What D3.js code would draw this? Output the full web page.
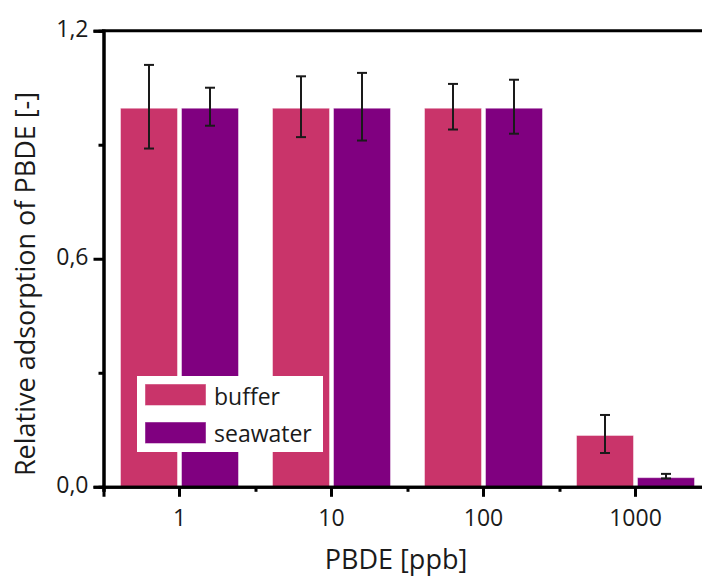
<!DOCTYPE html>
<html>
<head>
<meta charset="utf-8">
<script src="https://cdn.jsdelivr.net/npm/d3@7"></script>
<style>
  html, body { margin: 0; padding: 0; background: #fff; }
  svg { display: block; overflow: hidden; }
  text { font-family: "Open Sans", sans-serif; fill: #1a1a1a; }
</style>
</head>
<body>
<div id="chart"></div>
<script>
// PBDE concentrations (ppb) on the x axis
const categories = ["1", "10", "100", "1000"];
const seriesNames = ["buffer", "seawater"];
// relative adsorption, mean values
const bufferValues   = [1.0, 1.0, 1.0, 0.139];
const seawaterValues = [1.0, 1.0, 1.0, 0.028];
// standard deviations
const bufferErrors   = [0.110, 0.080, 0.060, 0.050];
const seawaterErrors = [0.050, 0.089, 0.071, 0.006];
// y axis ticks
const yMajorTicks = [0, 0.6, 1.2];
const yMinorTicks = [0.3, 0.9];
const yTickLabels = ["0,0", "0,6", "1,2"];

const colors = { buffer: "#c9346a", seawater: "#800080" };

const W = 702, H = 576;
const plotLeft = 103.5, plotRight = 711.5, plotTop = 30.7, plotBottom = 486.8;

const svg = d3.select("#chart").append("svg")
  .attr("width", W).attr("height", H);

const x0 = d3.scaleBand().domain(categories).range([plotLeft, plotRight]).padding(0);
const x1 = d3.scaleBand().domain(seriesNames).range([-59, 59]).paddingInner(0.0656);
const y = d3.scaleLinear().domain([0, 1.2]).range([plotBottom, plotTop]);

const rows = categories.map((c, i) => ({
  cat: c,
  items: [
    { s: "buffer", v: bufferValues[i], e: bufferErrors[i] },
    { s: "seawater", v: seawaterValues[i], e: seawaterErrors[i] }
  ]
}));

// bars
const groups = svg.append("g").selectAll("g").data(rows).join("g")
  .attr("transform", d => `translate(${x0(d.cat) + x0.bandwidth() / 2},0)`);

groups.selectAll("rect").data(d => d.items).join("rect")
  .attr("x", d => x1(d.s))
  .attr("width", x1.bandwidth())
  .attr("y", d => y(d.v) + 1.5)
  .attr("height", d => Math.max(0, plotBottom - y(d.v) - 1.5))
  .attr("fill", d => colors[d.s])
  .attr("stroke", "#ffffff").attr("stroke-opacity", 0.45).attr("stroke-width", 1);

// error bars
const eb = groups.selectAll("g.err").data(d => d.items).join("g").attr("class", "err")
  .attr("transform", d => `translate(${x1(d.s) + x1.bandwidth() / 2},0)`)
  .attr("stroke", "#1a1a1a").attr("stroke-width", 2);
eb.append("line").attr("x1", 0).attr("x2", 0)
  .attr("y1", d => y(d.v + d.e)).attr("y2", d => y(d.v - d.e));
eb.append("line").attr("x1", -5).attr("x2", 5)
  .attr("y1", d => y(d.v + d.e)).attr("y2", d => y(d.v + d.e));
eb.append("line").attr("x1", -5).attr("x2", 5)
  .attr("y1", d => y(d.v - d.e)).attr("y2", d => y(d.v - d.e));

// legend
const lg = svg.append("g");
lg.append("rect").attr("x", 137).attr("y", 376).attr("width", 186).attr("height", 76).attr("fill", "#fff");
seriesNames.forEach((s, i) => {
  lg.append("rect").attr("x", 145).attr("y", 384 + i * 38).attr("width", 61).attr("height", 21.5)
    .attr("fill", colors[s]).attr("stroke", "#ffffff").attr("stroke-opacity", 0.45);
  lg.append("text").attr("x", 214).attr("y", 405 + i * 37).attr("font-size", 23).text(s);
});

// y axis
const yAxisMajor = d3.axisLeft(y).tickValues(yMajorTicks).tickSize(10).tickPadding(5)
  .tickFormat((d, i) => yTickLabels[i]);
const yAxisMinor = d3.axisLeft(y).tickValues(yMinorTicks).tickSize(5).tickFormat("");
const gy = svg.append("g").attr("transform", `translate(${plotLeft},0)`).call(yAxisMajor);
svg.append("g").attr("transform", `translate(${plotLeft},0)`).call(yAxisMinor);

// x axis
const xMinor = d3.scaleLinear().domain([0, categories.length]).range([plotLeft, plotRight]);
const xAxisMajor = d3.axisBottom(x0).tickSize(10).tickPadding(13);
const xAxisMinor = d3.axisBottom(xMinor).tickValues(d3.range(categories.length + 1)).tickSize(5).tickFormat("");
const gx = svg.append("g").attr("transform", `translate(0,${plotBottom})`).call(xAxisMajor);
svg.append("g").attr("transform", `translate(0,${plotBottom})`).call(xAxisMinor);

svg.selectAll(".domain").attr("stroke", "#000").attr("stroke-width", 3);
svg.selectAll(".tick line").attr("stroke", "#000").attr("stroke-width", 3);
svg.selectAll(".tick text").attr("font-size", 23).attr("fill", "#1a1a1a")
  .style("font-family", "'Open Sans', sans-serif");
gy.selectAll(".tick text").attr("dy", "0.26em");

// top frame line
svg.append("line").attr("x1", plotLeft - 1.5).attr("x2", plotRight).attr("y1", plotTop).attr("y2", plotTop)
  .attr("stroke", "#000").attr("stroke-width", 3);

// axis titles
svg.append("text").attr("x", 396).attr("y", 569).attr("text-anchor", "middle")
  .attr("font-size", 27).text("PBDE [ppb]");
svg.append("text").attr("transform", "translate(35,284) rotate(-90)").attr("text-anchor", "middle")
  .attr("font-size", 27).text("Relative adsorption of PBDE [-]");
</script>
</body>
</html>
